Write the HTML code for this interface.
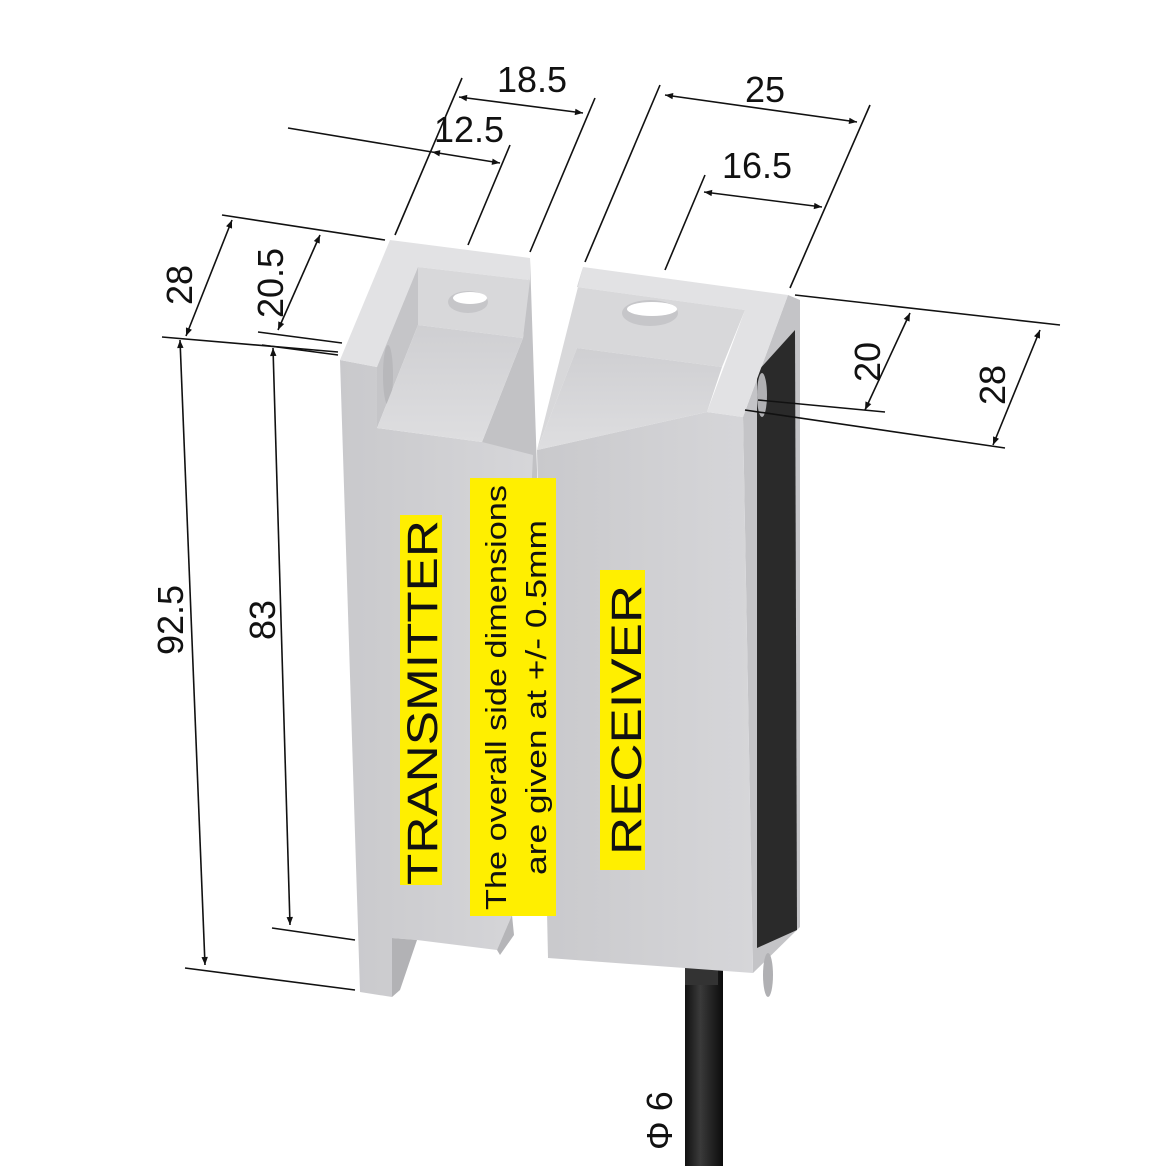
<!DOCTYPE html>
<html><head><meta charset="utf-8"><style>
html,body{margin:0;padding:0;background:#fff;}
svg{display:block}
text{font-family:"Liberation Sans",Arial,sans-serif;fill:#111}
</style></head><body>
<svg width="1166" height="1166" viewBox="0 0 1166 1166" xmlns="http://www.w3.org/2000/svg">
<defs>
<marker id="a" viewBox="0 0 10 10" refX="10" refY="5" markerWidth="11" markerHeight="8" orient="auto-start-reverse" markerUnits="userSpaceOnUse"><path d="M0,1 L10,5 L0,9 z" fill="#111"/></marker>
<linearGradient id="fg" x1="0" x2="1"><stop offset="0" stop-color="#c9c9cc"/><stop offset="1" stop-color="#d6d6d9"/></linearGradient>
<linearGradient id="fl" x1="0" y1="0" x2="0" y2="1"><stop offset="0" stop-color="#cfcfd2"/><stop offset="1" stop-color="#dedee0"/></linearGradient>
<linearGradient id="cab" x1="0" x2="1"><stop offset="0" stop-color="#111"/><stop offset="0.4" stop-color="#3a3a3a"/><stop offset="1" stop-color="#0c0c0c"/></linearGradient>
</defs>

<!-- cable -->
<rect x="685" y="970" width="38" height="196" fill="url(#cab)"/>

<!-- TRANSMITTER -->
<polygon points="482,442 523,338 530,258 537,470 536,900 512,915" fill="#c2c2c5"/>
<polygon points="340,360 377,367 377,428 482,442 533,455 512,915 497,950 417,940 392,938 392,997 360,992 340,360" fill="url(#fg)"/>
<polygon points="497,950 512,915 514,935 500,955" fill="#b5b5b8"/>
<polygon points="392,938 417,940 400,990 392,997" fill="#b2b2b5"/>
<polygon points="390,240 530,258 530,280 418,267 377,367 340,360" fill="#e2e2e4"/>
<polygon points="418,267 530,280 523,338 418,325" fill="#d8d8da"/>
<ellipse cx="468" cy="302" rx="20" ry="11" fill="#c6c6c9"/>
<ellipse cx="470" cy="298" rx="17" ry="6" fill="#fff"/>
<polygon points="418,267 418,325 377,428 377,367" fill="#c5c5c8"/>
<ellipse cx="388" cy="375" rx="5" ry="30" fill="#b8b8bb"/>
<polygon points="418,325 523,338 482,442 377,428" fill="url(#fl)"/>

<!-- RECEIVER -->
<polygon points="743,417 788,295 800,300 800,927 753,973" fill="#c4c4c7"/>
<polygon points="757,372 795,330 797,930 757,948" fill="#2a2a2a"/>
<ellipse cx="762" cy="395" rx="5" ry="22" fill="#b0b0b3"/>
<ellipse cx="768" cy="975" rx="5" ry="22" fill="#b0b0b3"/>
<rect x="685" y="965" width="33" height="20" fill="#333"/>
<polygon points="537,450 707,412 743,417 753,973 548,958" fill="url(#fg)"/>
<polygon points="583,267 788,295 743,417 707,412 745,310 577,287" fill="#e2e2e4"/>
<polygon points="583,267 577,287 745,310 722,367 577,348 537,450" fill="#d8d8da"/>
<ellipse cx="650" cy="313" rx="28" ry="13" fill="#c6c6c9"/>
<ellipse cx="652" cy="309" rx="25" ry="7" fill="#fff"/>
<polygon points="577,348 722,367 707,412 537,450" fill="url(#fl)"/>

<!-- labels -->
<rect x="400" y="515" width="42" height="370" fill="#ffef00"/>
<text transform="translate(437,885) rotate(-90)" font-size="43" textLength="365" lengthAdjust="spacingAndGlyphs">TRANSMITTER</text>
<rect x="470" y="478" width="86" height="438" fill="#ffef00"/>
<text transform="translate(506,910) rotate(-90)" font-size="29" textLength="425" lengthAdjust="spacingAndGlyphs">The overall side dimensions</text>
<text transform="translate(546,875) rotate(-90)" font-size="29" textLength="355" lengthAdjust="spacingAndGlyphs">are given at +/- 0.5mm</text>
<rect x="600" y="570" width="45" height="300" fill="#ffef00"/>
<text transform="translate(641,855) rotate(-90)" font-size="43" textLength="270" lengthAdjust="spacingAndGlyphs">RECEIVER</text>

<!-- dimension lines -->
<g stroke="#111" stroke-width="1.6" fill="none">
 <line x1="288" y1="128" x2="432" y2="152"/>
 <line x1="395" y1="235" x2="462" y2="78"/>
 <line x1="468" y1="245" x2="510" y2="145"/>
 <line x1="530" y1="252" x2="595" y2="98"/>
 <line x1="222" y1="215" x2="385" y2="240"/>
 <line x1="258" y1="332" x2="342" y2="343"/>
 <line x1="162" y1="337" x2="338" y2="352"/>
 <line x1="262" y1="345" x2="338" y2="355"/>
 <line x1="459" y1="97" x2="583" y2="113" marker-start="url(#a)" marker-end="url(#a)"/>
 <line x1="432" y1="152" x2="500" y2="163" marker-start="url(#a)" marker-end="url(#a)"/>
 <line x1="232" y1="220" x2="186" y2="336" marker-start="url(#a)" marker-end="url(#a)"/>
 <line x1="320" y1="235" x2="278" y2="330" marker-start="url(#a)" marker-end="url(#a)"/>
 <line x1="180" y1="340" x2="205" y2="965" marker-start="url(#a)" marker-end="url(#a)"/>
 <line x1="273" y1="348" x2="290" y2="925" marker-start="url(#a)" marker-end="url(#a)"/>
 <line x1="185" y1="968" x2="355" y2="990"/>
 <line x1="272" y1="928" x2="355" y2="940"/>
 <line x1="585" y1="262" x2="660" y2="85"/>
 <line x1="790" y1="288" x2="870" y2="105"/>
 <line x1="665" y1="270" x2="705" y2="175"/>
 <line x1="665" y1="95" x2="857" y2="122" marker-start="url(#a)" marker-end="url(#a)"/>
 <line x1="704" y1="192" x2="822" y2="207" marker-start="url(#a)" marker-end="url(#a)"/>
 <line x1="795" y1="295" x2="1060" y2="325"/>
 <line x1="758" y1="400" x2="885" y2="412"/>
 <line x1="745" y1="410" x2="1005" y2="448"/>
 <line x1="910" y1="313" x2="865" y2="410" marker-start="url(#a)" marker-end="url(#a)"/>
 <line x1="1040" y1="330" x2="993" y2="445" marker-start="url(#a)" marker-end="url(#a)"/>
</g>
<g font-size="36">
 <text x="497" y="92">18.5</text>
 <text x="434" y="142">12.5</text>
 <text x="745" y="102">25</text>
 <text x="722" y="178">16.5</text>
 <text transform="translate(192,305) rotate(-90)">28</text>
 <text transform="translate(283,318) rotate(-90)">20.5</text>
 <text transform="translate(183,655) rotate(-90)">92.5</text>
 <text transform="translate(275,640) rotate(-90)">83</text>
 <text transform="translate(880,382) rotate(-90)">20</text>
 <text transform="translate(1005,405) rotate(-90)">28</text>
 <text transform="translate(672,1150) rotate(-90)">Φ 6</text>
</g>
</svg>
</body></html>
